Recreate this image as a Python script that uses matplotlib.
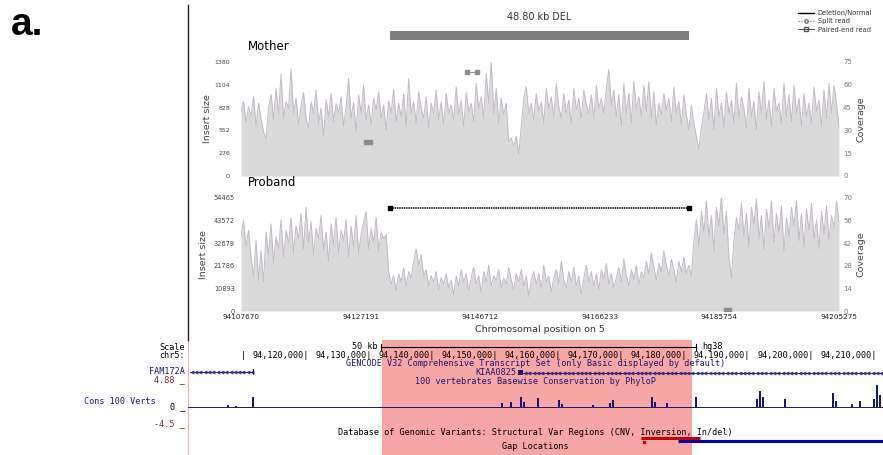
import numpy as np
import matplotlib.pyplot as plt
from matplotlib.lines import Line2D

W, H = 883, 455

# read panels: chromosome window and deletion call
win_start, win_end = 94107670, 94205275
pos_ticks = [94107670, 94127191, 94146712, 94166233, 94185754, 94205275]
del_start, del_end = 94132000, 94180800
del_label = "48.80 kb DEL"

mother_ticks = [0, 276, 552, 828, 1104, 1380]
proband_ticks = [0, 10893, 21786, 32679, 43572, 54465]
mother_cov_ticks = [0, 15, 30, 45, 60, 75]
proband_cov_ticks = [0, 14, 28, 42, 56, 70]

mother_vals = [
    780, 900, 650, 840, 720, 960, 610, 880, 700, 540, 450, 820, 990, 680, 1060, 760, 1230, 700, 900, 820,
    1300, 760, 940, 620, 860, 1010, 700, 580, 900, 760, 1040, 640, 820, 480, 930, 720, 1000, 660, 880, 760,
    960, 600, 840, 1180, 700, 890, 540, 980, 760, 1100, 680, 860, 620, 940, 800, 1020, 700, 860, 560, 910,
    760, 1050, 660, 880, 720, 990, 600, 1180, 760, 900, 640, 1020, 820, 700, 960, 580, 880, 760, 1040, 680,
    900, 620, 1000, 760, 860, 680, 1080, 740, 920, 600, 1010, 780, 880, 660, 1120, 820, 960, 700, 1240, 880,
    1380, 760, 1060, 640, 940, 740, 880, 420, 460, 360, 480, 260, 600, 940, 1080, 760, 880, 680, 1000, 780,
    900, 640, 1060, 820, 960, 720, 1120, 840, 700, 1000, 760, 920, 640, 1060, 800, 940, 700, 1040, 860, 760,
    980, 700, 1100, 820, 940, 760, 1060, 1290, 860, 1040, 720, 980, 600, 1120, 760, 1000, 640, 1140, 820, 960,
    720, 1100, 780, 1140, 700, 1020, 620, 880, 740, 1000, 800, 940, 660, 1080, 760, 900, 620, 980, 740, 560,
    860, 640, 480, 320, 600, 760, 1000, 680, 940, 560, 1060, 720, 880, 600, 1020, 760, 920, 640, 1120, 700,
    960, 820, 580, 1060, 720, 900, 560, 1020, 760, 1140, 680, 920, 600, 1060, 780, 880, 640, 1120, 720, 980,
    660, 1100, 760, 940, 600, 1000, 720, 880, 640, 1080, 780, 920, 600, 1040, 700, 1120, 760, 1100, 880, 600,
]

proband_vals = [
    # before the deletion
    36000, 44000, 31000, 39000, 26000, 17000, 34000, 15000, 29000, 14000, 38000, 27000, 42000, 23000, 36000,
    30000, 44000, 26000, 39000, 33000, 45000, 28000, 41000, 35000, 47000, 30000, 50000, 33000, 43000, 27000,
    40000, 35000, 46000, 29000, 38000, 24000, 42000, 32000, 45000, 28000, 39000, 34000, 44000, 26000, 41000,
    31000, 46000, 28000, 37000, 43000, 48000, 30000, 40000, 33000, 45000, 29000, 38000, 35000, 37000,
    # inside the deletion
    19000, 13000, 17000, 10000, 18000, 14000, 21000, 12000, 19000, 16000, 24000, 30000, 22000, 27000, 17000,
    20000, 12000, 17000, 14000, 19000, 10000, 16000, 13000, 18000, 11000, 15000, 8000, 17000, 12000, 20000,
    14000, 18000, 10000, 16000, 21000, 13000, 17000, 9000, 19000, 14000, 22000, 12000, 17000, 15000, 20000,
    11000, 16000, 13000, 21000, 15000, 10000, 18000, 14000, 20000, 12000, 17000, 7000, 15000, 19000, 13000,
    18000, 11000, 22000, 14000, 17000, 9000, 16000, 20000, 13000, 24000, 15000, 11000, 19000, 14000, 21000,
    12000, 17000, 8000, 16000, 22000, 14000, 19000, 12000, 18000, 10000, 20000, 15000, 23000, 13000, 18000,
    11000, 16000, 21000, 14000, 25000, 17000, 12000, 20000, 15000, 22000, 13000, 19000, 16000, 24000, 18000,
    28000, 21000, 15000, 23000, 19000, 29000, 22000, 17000, 25000, 20000, 14000, 24000, 19000, 26000, 18000,
    22000, 17000,
    # after the deletion
    34000, 44000, 31000, 48000, 38000, 53000, 36000, 46000, 29000, 50000, 41000, 55000, 37000, 48000, 26000,
    16000, 34000, 45000, 39000, 52000, 36000, 47000, 31000, 50000, 42000, 54000, 35000, 46000, 30000, 49000,
    40000, 53000, 33000, 47000, 38000, 51000, 29000, 45000, 36000, 50000, 41000, 53000, 34000, 47000, 31000,
    49000, 39000, 52000, 35000, 44000, 30000, 48000, 37000, 51000, 34000, 46000, 40000, 53000, 43000,
]

# paired-end read evidence: (start, end, insert size)
mother_pe = [(94128150, 94128650, 411), (94144560, 94146190, 1259)]
proband_pe = [(94186900, 94187400, 300)]

# genome browser panel
ucsc_xlim = (94101284, 94211426)
coord_ticks = list(range(94110000, 94210001, 10000))
scale_bar = (94131800, 94181800)
hl_start, hl_end = 94132030, 94181170
fam172a = (94101600, 94111585)
kiaa0825 = (94154400, 94211426)
kiaa0825_box = (94153600, 94154400)
cons_pos = [94107620, 94108890, 94111585, 94151050, 94152480, 94154060, 94154540, 94156760, 94160090,
            94160560, 94165480, 94168170, 94168650, 94174830, 94175300, 94177200, 94181800, 94191470,
            94191950, 94192420, 94195910, 94203520, 94203990, 94206530, 94207800, 94210020, 94210490,
            94210970]
cons_val = [0.3, 0.2, 1.9, 0.7, 0.9, 1.8, 1.0, 1.6, 1.3, 0.6, 0.4, 0.7, 1.3, 1.9, 1.0, 0.8, 1.9, 1.5,
            3.0, 1.8, 1.5, 2.6, 1.2, 0.6, 1.1, 1.5, 4.1, 2.2]
dgv_red = (94173080, 94182430)
dgv_red_dot = 94173600
dgv_blue = (94178950, 94211426)

NAVY = '#17177a'
MAROON = '#7a2a2a'
MONO = 'DejaVu Sans Mono'

fig = plt.figure(figsize=(W / 100, H / 100), dpi=100)


def add_axes(left, top, right, bottom):
    return fig.add_axes([left / W, 1 - bottom / H, (right - left) / W, (bottom - top) / H])


def read_panel(top, bottom, vals, yticks, cov_ticks, title, pad, lab_x, tick_fs):
    ax = add_axes(241, top, 839, bottom)
    x = np.linspace(win_start, win_end, len(vals))
    ax.fill_between(x, vals, color='#dadada', lw=0)
    ax.plot(x, vals, color='#c2bac6', lw=0.7)
    ax.set_xlim(win_start, win_end)
    ax.set_ylim(0, yticks[-1])
    ax.set_yticks(yticks)
    ax.tick_params(length=0, labelsize=tick_fs, labelcolor='#444', pad=pad)
    ax.set_ylabel('Insert size', fontsize=6.8, color='#444')
    ax.yaxis.set_label_coords(lab_x, 0.5)
    for s in ax.spines.values():
        s.set_visible(False)
    ax2 = ax.twinx()
    ax2.set_ylim(0, cov_ticks[-1])
    ax2.set_yticks(cov_ticks)
    ax2.tick_params(length=0, labelsize=5, labelcolor='#777', pad=3)
    ax2.set_ylabel('Coverage', fontsize=6.8, color='#444')
    ax2.yaxis.set_label_coords(1.03, 0.5)
    for s in ax2.spines.values():
        s.set_visible(False)
    fig.text(248 / W, 1 - (top - 15) / H, title, fontsize=8.5, va='center', ha='left')
    return ax


def draw_pe(ax, reads):
    for a, b, v in reads:
        ax.plot([a, b], [v, v], color='#8c8c8c', lw=0.8, marker='s', ms=2.6, zorder=4)


ax_m = read_panel(62, 176, mother_vals, mother_ticks, mother_cov_ticks, 'Mother', 8, -0.048, 4.5)
ax_m.set_xticks([])
draw_pe(ax_m, mother_pe)

ax_p = read_panel(198, 311, proband_vals, proband_ticks, proband_cov_ticks, 'Proband', 4.5, -0.056, 4.8)
ax_p.set_xticks(pos_ticks)
ax_p.set_xticklabels([str(p) for p in pos_ticks], fontsize=5.2, color='#222')
ax_p.tick_params(axis='x', pad=2)
draw_pe(ax_p, proband_pe)
ax_p.plot([del_start, del_end], [49650, 49650], color='black', lw=1.1, ls=(0, (1, 0.5)),
          marker='s', ms=3.2, zorder=5)
fig.text(540 / W, 1 - 330 / H, 'Chromosomal position on 5', fontsize=6.8, color='#333',
         ha='center', va='center')

# deletion bar above the read panels
ax_bar = add_axes(241, 31, 839, 40)
ax_bar.barh(0, del_end - del_start, left=del_start, height=1, color='#7f7f7f')
ax_bar.set_xlim(win_start, win_end)
ax_bar.set_ylim(-0.5, 0.5)
ax_bar.axis('off')
ax_bar.text((del_start + del_end) / 2, 2.0, del_label, fontsize=6.9, color='#333',
            ha='center', va='center', clip_on=False)

handles = [Line2D([], [], color='black', lw=1),
           Line2D([], [], color='#777', lw=0.8, ls=':', marker='o', ms=2.5, mfc='none'),
           Line2D([], [], color='#555', lw=0.8, marker='s', ms=2.5, mfc='none')]
fig.legend(handles, ['Deletion/Normal', 'Split read', 'Paired-end read'], loc='upper right',
           bbox_to_anchor=(878 / W, 1 - 4 / H), frameon=False, fontsize=4.8, handlelength=2.4,
           labelspacing=0.35, handletextpad=0.6, labelcolor='#333')

fig.add_artist(Line2D([188 / W, 188 / W], [1 - 5 / H, 1 - 340 / H], color='#222', lw=1))
fig.text(11 / W, 1 - 25 / H, 'a.', fontsize=28, fontweight='bold', family='Liberation Sans',
         va='center', ha='left')

# genome browser panel (y in pixel rows)
ax_b = add_axes(188, 340, 883, 455)
ax_b.set_xlim(*ucsc_xlim)
ax_b.set_ylim(455, 340)
ax_b.set_xticks([])
ax_b.set_yticks([])
for k, s in ax_b.spines.items():
    s.set_visible(k == 'left')
ax_b.spines['left'].set_color('#f2b0b0')
ax_b.axvspan(hl_start, hl_end, color='#f7a6a6', lw=0, zorder=0)
centre = ax_b.get_yaxis_transform()

mono = dict(family=MONO, fontsize=6.1)
ax_b.text(scale_bar[0] - 400, 347, '50 kb', ha='right', va='center', **mono)
ax_b.plot(scale_bar, [347, 347], color='black', lw=0.8)
for e in scale_bar:
    ax_b.plot([e, e], [344, 350], color='black', lw=0.8)
ax_b.text(scale_bar[1] + 1000, 347, 'hg38', ha='left', va='center', **mono)
for t in coord_ticks:
    lab = '|' if t == coord_ticks[0] else f'{t:,}|'
    ax_b.text(t + 400, 356, lab, ha='right', va='center', **mono)

ax_b.text(0.5, 364, 'GENCODE V32 Comprehensive Transcript Set (only Basic displayed by default)',
          transform=centre, color=NAVY, ha='center', va='center', **mono)


def gene(span, y):
    ax_b.plot(span, [y, y], color=NAVY, lw=0.6)
    xs = np.arange(span[0] + 300, span[1], 680)
    ax_b.plot(xs, [y] * len(xs), ls='none', marker='<', ms=2.2, mfc='none', mec=NAVY, mew=0.5)


gene(fam172a, 372)
ax_b.plot([fam172a[1], fam172a[1]], [369.5, 374.5], color=NAVY, lw=0.8)
gene(kiaa0825, 373)
ax_b.fill_between(kiaa0825_box, 370.5, 375.5, color=NAVY, lw=0)
ax_b.text(kiaa0825_box[0] - 300, 373, 'KIAA0825', color=NAVY, ha='right', va='center', **mono)

ax_b.text(0.5, 382, '100 vertebrates Basewise Conservation by PhyloP',
          transform=centre, color=NAVY, ha='center', va='center', **mono)
ax_b.text(0.5, 433, 'Database of Genomic Variants: Structural Var Regions (CNV, Inversion, In/del)',
          transform=centre, ha='center', va='center', **mono)
ax_b.plot(dgv_red, [438, 438], color='#c80000', lw=2.2, solid_capstyle='butt')
ax_b.plot([dgv_red_dot], [442], ls='none', marker='s', ms=1.6, color='#c80000')
ax_b.plot(dgv_blue, [441, 441], color='#0000b4', lw=2.2, solid_capstyle='butt')
ax_b.text(0.5, 447, 'Gap Locations', transform=centre, ha='center', va='center', **mono)

# conservation wiggle
ax_c = add_axes(188, 381, 883, 431)
ax_c.set_xlim(*ucsc_xlim)
ax_c.set_ylim(-4.5, 4.88)
ax_c.axis('off')
ax_c.axhline(0, color=NAVY, lw=0.7)
ax_c.bar(cons_pos, cons_val, width=420, color=NAVY, lw=0)

fig.text(185 / W, 1 - 347 / H, 'Scale', ha='right', va='center', **mono)
fig.text(185 / W, 1 - 356 / H, 'chr5:', ha='right', va='center', **mono)
fig.text(185 / W, 1 - 372 / H, 'FAM172A', ha='right', va='center', color=NAVY, **mono)
fig.text(185 / W, 1 - 380 / H, '4.88 _', ha='right', va='center', color=MAROON, **mono)
fig.text(84 / W, 1 - 401 / H, 'Cons 100 Verts', ha='left', va='center', color=NAVY, **mono)
fig.text(185 / W, 1 - 407 / H, '0 _', ha='right', va='center', **mono)
fig.text(185 / W, 1 - 424 / H, '-4.5 _', ha='right', va='center', color=MAROON, **mono)

fig.savefig('out.png', dpi=100)
